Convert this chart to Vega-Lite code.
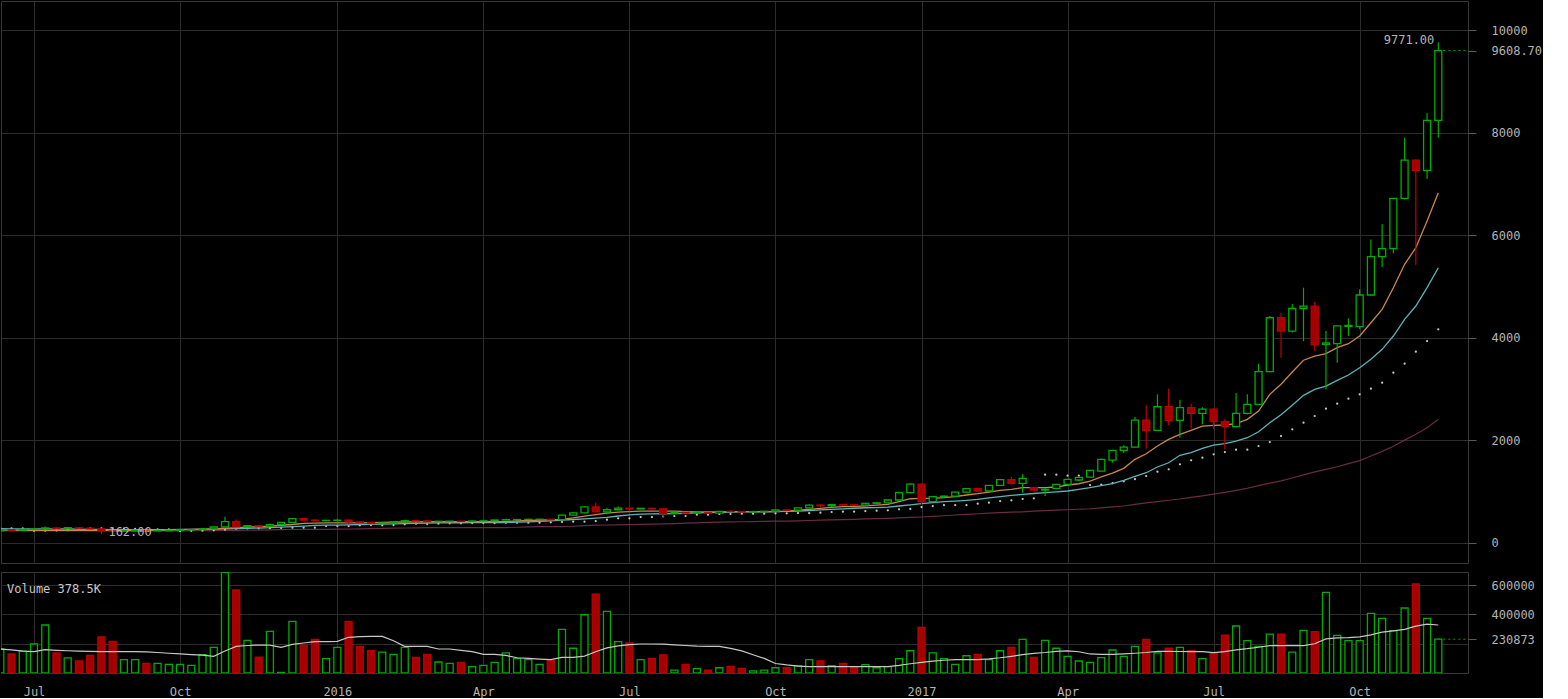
{
 "$schema": "https://vega.github.io/schema/vega-lite/v6.json",
 "background": "#000000",
 "padding": 0,
 "spacing": 7,
 "config": {
  "view": {"stroke": "#383838", "strokeWidth": 1},
  "font": "DejaVu Sans Mono",
  "axis": {"labelFont": "DejaVu Sans Mono", "labelFontSize": 12, "labelColor": "#b4b4b4", "gridColor": "#2c2c2c", "gridWidth": 1, "domain": false, "tickColor": "#5a5a5a", "labelOverlap": false}
 },
 "datasets": {"w": [
{"d":"2015-06-11","o":229,"h":256,"l":227,"c":249,"v":164000,"m1":244,"m2":270,"s":280,"m4":225,"vm":164000},
{"d":"2015-06-18","o":249,"h":251,"l":240,"c":242,"v":130000,"m1":242,"m2":268,"s":277,"m4":225,"vm":158000},
{"d":"2015-06-25","o":242,"h":264,"l":240,"c":258,"v":150000,"m1":240,"m2":267,"s":274,"m4":225,"vm":150000},
{"d":"2015-07-02","o":258,"h":274,"l":253,"c":268,"v":198000,"m1":238,"m2":266,"s":228,"m4":225,"vm":146000},
{"d":"2015-07-09","o":268,"h":315,"l":267,"c":285,"v":328000,"m1":238,"m2":265,"s":230,"m4":225,"vm":159000},
{"d":"2015-07-16","o":285,"h":292,"l":268,"c":277,"v":137000,"m1":240,"m2":265,"s":235,"m4":225,"vm":155000},
{"d":"2015-07-23","o":277,"h":298,"l":275,"c":289,"v":104000,"m1":240,"m2":265,"s":240,"m4":225,"vm":152000},
{"d":"2015-07-30","o":289,"h":290,"l":275,"c":281,"v":82000,"m1":240,"m2":262,"s":277,"m4":225,"vm":150000},
{"d":"2015-08-06","o":281,"h":282,"l":260,"c":267,"v":121000,"m1":240,"m2":258,"s":277,"m4":225,"vm":148000},
{"d":"2015-08-13","o":267,"h":268,"l":162,"c":226,"v":246000,"m1":238,"m2":254,"s":277,"m4":225,"vm":146000},
{"d":"2015-08-20","o":226,"h":237,"l":198,"c":224,"v":216000,"m1":236,"m2":251,"s":277,"m4":225,"vm":146000},
{"d":"2015-08-27","o":224,"h":235,"l":222,"c":228,"v":91000,"m1":234,"m2":250,"s":270,"m4":225,"vm":146000},
{"d":"2015-09-03","o":228,"h":247,"l":226,"c":238,"v":91000,"m1":235,"m2":250,"s":265,"m4":225,"vm":146000},
{"d":"2015-09-10","o":238,"h":241,"l":227,"c":229,"v":66000,"m1":237,"m2":250,"s":258,"m4":225,"vm":144000},
{"d":"2015-09-17","o":229,"h":234,"l":227,"c":231,"v":66000,"m1":240,"m2":251,"s":258,"m4":225,"vm":140000},
{"d":"2015-09-24","o":231,"h":239,"l":231,"c":236,"v":59000,"m1":245,"m2":253,"s":258,"m4":226,"vm":135000},
{"d":"2015-10-01","o":236,"h":248,"l":235,"c":246,"v":59000,"m1":250,"m2":255,"s":226,"m4":228,"vm":130000},
{"d":"2015-10-08","o":246,"h":254,"l":242,"c":252,"v":52000,"m1":255,"m2":258,"s":228,"m4":230,"vm":126000},
{"d":"2015-10-15","o":252,"h":273,"l":250,"c":268,"v":125000,"m1":260,"m2":260,"s":232,"m4":232,"vm":122000},
{"d":"2015-10-22","o":268,"h":304,"l":267,"c":303,"v":175000,"m1":265,"m2":262,"s":238,"m4":234,"vm":114000},
{"d":"2015-10-29","o":303,"h":502,"l":302,"c":410,"v":687000,"m1":275,"m2":265,"s":250,"m4":236,"vm":150000},
{"d":"2015-11-05","o":410,"h":450,"l":300,"c":305,"v":567000,"m1":289,"m2":270,"s":270,"m4":238,"vm":182000},
{"d":"2015-11-12","o":305,"h":340,"l":305,"c":330,"v":223000,"m1":300,"m2":276,"s":274,"m4":240,"vm":188000},
{"d":"2015-11-19","o":330,"h":335,"l":315,"c":320,"v":109000,"m1":311,"m2":283,"s":277,"m4":243,"vm":191000},
{"d":"2015-11-26","o":320,"h":370,"l":318,"c":350,"v":285000,"m1":322,"m2":289,"s":280,"m4":246,"vm":191000},
{"d":"2015-12-03","o":350,"h":400,"l":345,"c":395,"v":4000,"m1":337,"m2":300,"s":284,"m4":250,"vm":175000},
{"d":"2015-12-10","o":395,"h":470,"l":390,"c":465,"v":353000,"m1":352,"m2":311,"s":289,"m4":254,"vm":195000},
{"d":"2015-12-17","o":465,"h":470,"l":430,"c":437,"v":191000,"m1":372,"m2":322,"s":289,"m4":258,"vm":205000},
{"d":"2015-12-24","o":437,"h":460,"l":415,"c":428,"v":230000,"m1":380,"m2":333,"s":289,"m4":258,"vm":214000},
{"d":"2015-12-31","o":428,"h":440,"l":425,"c":433,"v":98000,"m1":385,"m2":338,"s":322,"m4":258,"vm":214000},
{"d":"2016-01-07","o":433,"h":462,"l":420,"c":436,"v":175000,"m1":385,"m2":340,"s":322,"m4":260,"vm":216000},
{"d":"2016-01-14","o":436,"h":455,"l":355,"c":405,"v":353000,"m1":383,"m2":345,"s":322,"m4":264,"vm":244000},
{"d":"2016-01-21","o":405,"h":415,"l":380,"c":393,"v":182000,"m1":385,"m2":352,"s":336,"m4":268,"vm":248000},
{"d":"2016-01-28","o":393,"h":395,"l":365,"c":370,"v":152000,"m1":388,"m2":356,"s":342,"m4":271,"vm":250000},
{"d":"2016-02-04","o":370,"h":390,"l":365,"c":381,"v":143000,"m1":392,"m2":360,"s":336,"m4":275,"vm":250000},
{"d":"2016-02-11","o":381,"h":410,"l":375,"c":404,"v":127000,"m1":398,"m2":364,"s":342,"m4":280,"vm":220000},
{"d":"2016-02-18","o":404,"h":445,"l":404,"c":426,"v":175000,"m1":401,"m2":368,"s":355,"m4":284,"vm":182000},
{"d":"2016-02-25","o":426,"h":440,"l":420,"c":423,"v":107000,"m1":404,"m2":374,"s":368,"m4":287,"vm":182000},
{"d":"2016-03-03","o":423,"h":424,"l":400,"c":412,"v":127000,"m1":406,"m2":379,"s":361,"m4":289,"vm":182000},
{"d":"2016-03-10","o":412,"h":420,"l":410,"c":416,"v":75000,"m1":406,"m2":382,"s":368,"m4":289,"vm":164000},
{"d":"2016-03-17","o":416,"h":420,"l":405,"c":418,"v":66000,"m1":406,"m2":384,"s":374,"m4":289,"vm":164000},
{"d":"2016-03-24","o":418,"h":420,"l":410,"c":414,"v":73000,"m1":406,"m2":386,"s":374,"m4":289,"vm":155000},
{"d":"2016-03-31","o":414,"h":423,"l":412,"c":421,"v":43000,"m1":406,"m2":387,"s":381,"m4":289,"vm":146000},
{"d":"2016-04-07","o":421,"h":427,"l":418,"c":424,"v":52000,"m1":406,"m2":387,"s":381,"m4":289,"vm":127000},
{"d":"2016-04-14","o":424,"h":442,"l":423,"c":440,"v":73000,"m1":406,"m2":387,"s":381,"m4":289,"vm":127000},
{"d":"2016-04-21","o":440,"h":466,"l":440,"c":446,"v":137000,"m1":410,"m2":390,"s":387,"m4":292,"vm":120000},
{"d":"2016-04-28","o":446,"h":455,"l":440,"c":449,"v":98000,"m1":420,"m2":397,"s":387,"m4":298,"vm":104000},
{"d":"2016-05-05","o":449,"h":462,"l":445,"c":453,"v":91000,"m1":430,"m2":404,"s":387,"m4":305,"vm":100000},
{"d":"2016-05-12","o":453,"h":458,"l":448,"c":455,"v":59000,"m1":438,"m2":412,"s":387,"m4":309,"vm":95000},
{"d":"2016-05-19","o":455,"h":456,"l":436,"c":448,"v":84000,"m1":445,"m2":424,"s":394,"m4":309,"vm":91000},
{"d":"2016-05-26","o":448,"h":548,"l":448,"c":535,"v":298000,"m1":452,"m2":436,"s":400,"m4":309,"vm":107000},
{"d":"2016-06-02","o":535,"h":590,"l":530,"c":578,"v":169000,"m1":480,"m2":450,"s":407,"m4":318,"vm":107000},
{"d":"2016-06-09","o":578,"h":705,"l":575,"c":695,"v":398000,"m1":515,"m2":462,"s":407,"m4":328,"vm":115000},
{"d":"2016-06-16","o":695,"h":780,"l":590,"c":598,"v":539000,"m1":545,"m2":475,"s":420,"m4":338,"vm":145000},
{"d":"2016-06-23","o":598,"h":680,"l":550,"c":640,"v":421000,"m1":575,"m2":490,"s":445,"m4":342,"vm":172000},
{"d":"2016-06-30","o":640,"h":705,"l":635,"c":670,"v":214000,"m1":595,"m2":518,"s":472,"m4":345,"vm":185000},
{"d":"2016-07-07","o":670,"h":675,"l":610,"c":655,"v":205000,"m1":605,"m2":540,"s":472,"m4":350,"vm":194000},
{"d":"2016-07-14","o":655,"h":675,"l":650,"c":668,"v":91000,"m1":612,"m2":553,"s":498,"m4":355,"vm":198000},
{"d":"2016-07-21","o":668,"h":670,"l":645,"c":655,"v":100000,"m1":615,"m2":558,"s":498,"m4":360,"vm":198000},
{"d":"2016-07-28","o":655,"h":660,"l":480,"c":566,"v":123000,"m1":615,"m2":562,"s":511,"m4":365,"vm":197000},
{"d":"2016-08-04","o":566,"h":600,"l":560,"c":590,"v":20000,"m1":612,"m2":566,"s":518,"m4":370,"vm":192000},
{"d":"2016-08-11","o":590,"h":595,"l":568,"c":575,"v":59000,"m1":605,"m2":572,"s":518,"m4":377,"vm":188000},
{"d":"2016-08-18","o":575,"h":585,"l":570,"c":580,"v":30000,"m1":598,"m2":580,"s":543,"m4":385,"vm":183000},
{"d":"2016-08-25","o":580,"h":582,"l":565,"c":574,"v":20000,"m1":598,"m2":585,"s":543,"m4":393,"vm":182000},
{"d":"2016-09-01","o":574,"h":612,"l":570,"c":610,"v":36000,"m1":600,"m2":590,"s":557,"m4":400,"vm":182000},
{"d":"2016-09-08","o":610,"h":630,"l":600,"c":607,"v":45000,"m1":602,"m2":595,"s":557,"m4":404,"vm":168000},
{"d":"2016-09-15","o":607,"h":610,"l":595,"c":597,"v":32000,"m1":602,"m2":598,"s":563,"m4":406,"vm":151000},
{"d":"2016-09-22","o":597,"h":607,"l":592,"c":604,"v":14000,"m1":602,"m2":600,"s":563,"m4":410,"vm":125000},
{"d":"2016-09-29","o":604,"h":612,"l":600,"c":610,"v":20000,"m1":602,"m2":601,"s":563,"m4":413,"vm":100000},
{"d":"2016-10-06","o":610,"h":640,"l":606,"c":636,"v":36000,"m1":606,"m2":602,"s":570,"m4":416,"vm":65000},
{"d":"2016-10-13","o":636,"h":642,"l":630,"c":632,"v":36000,"m1":614,"m2":608,"s":570,"m4":419,"vm":55000},
{"d":"2016-10-20","o":632,"h":680,"l":628,"c":675,"v":50000,"m1":630,"m2":614,"s":576,"m4":423,"vm":47000},
{"d":"2016-10-27","o":675,"h":745,"l":675,"c":732,"v":91000,"m1":648,"m2":625,"s":576,"m4":430,"vm":43000},
{"d":"2016-11-03","o":732,"h":740,"l":690,"c":718,"v":82000,"m1":665,"m2":636,"s":582,"m4":436,"vm":43000},
{"d":"2016-11-10","o":718,"h":745,"l":695,"c":741,"v":50000,"m1":688,"m2":648,"s":596,"m4":442,"vm":43000},
{"d":"2016-11-17","o":741,"h":755,"l":725,"c":736,"v":66000,"m1":700,"m2":659,"s":602,"m4":448,"vm":43000},
{"d":"2016-11-24","o":736,"h":745,"l":725,"c":732,"v":43000,"m1":706,"m2":669,"s":602,"m4":453,"vm":43000},
{"d":"2016-12-01","o":732,"h":775,"l":730,"c":766,"v":57000,"m1":714,"m2":679,"s":615,"m4":460,"vm":43000},
{"d":"2016-12-08","o":766,"h":780,"l":760,"c":775,"v":36000,"m1":730,"m2":682,"s":621,"m4":466,"vm":43000},
{"d":"2016-12-15","o":775,"h":835,"l":770,"c":830,"v":43000,"m1":746,"m2":693,"s":629,"m4":473,"vm":43000},
{"d":"2016-12-22","o":830,"h":990,"l":820,"c":975,"v":98000,"m1":800,"m2":713,"s":648,"m4":480,"vm":52000},
{"d":"2016-12-29","o":975,"h":1160,"l":960,"c":1140,"v":152000,"m1":855,"m2":735,"s":655,"m4":490,"vm":63000},
{"d":"2017-01-05","o":1140,"h":1150,"l":750,"c":797,"v":312000,"m1":863,"m2":758,"s":693,"m4":498,"vm":73000},
{"d":"2017-01-12","o":797,"h":910,"l":780,"c":895,"v":137000,"m1":863,"m2":778,"s":713,"m4":510,"vm":81000},
{"d":"2017-01-19","o":895,"h":925,"l":880,"c":905,"v":98000,"m1":875,"m2":797,"s":732,"m4":523,"vm":87000},
{"d":"2017-01-26","o":905,"h":990,"l":900,"c":986,"v":59000,"m1":895,"m2":810,"s":732,"m4":537,"vm":91000},
{"d":"2017-02-02","o":986,"h":1060,"l":980,"c":1051,"v":118000,"m1":928,"m2":824,"s":732,"m4":551,"vm":91000},
{"d":"2017-02-09","o":1051,"h":1065,"l":975,"c":1006,"v":127000,"m1":953,"m2":843,"s":758,"m4":562,"vm":91000},
{"d":"2017-02-16","o":1006,"h":1125,"l":1000,"c":1117,"v":91000,"m1":986,"m2":870,"s":777,"m4":573,"vm":96000},
{"d":"2017-02-23","o":1117,"h":1230,"l":1110,"c":1227,"v":152000,"m1":1019,"m2":895,"s":810,"m4":583,"vm":104000},
{"d":"2017-03-02","o":1227,"h":1286,"l":1130,"c":1156,"v":175000,"m1":1038,"m2":920,"s":824,"m4":592,"vm":114000},
{"d":"2017-03-09","o":1156,"h":1331,"l":973,"c":1254,"v":230000,"m1":1071,"m2":941,"s":850,"m4":600,"vm":125000},
{"d":"2017-03-16","o":1071,"h":1085,"l":1000,"c":1025,"v":107000,"m1":1071,"m2":957,"s":863,"m4":612,"vm":134000},
{"d":"2017-03-23","o":1025,"h":1060,"l":908,"c":1040,"v":223000,"m1":1071,"m2":973,"s":1324,"m4":624,"vm":140000},
{"d":"2017-03-30","o":1058,"h":1145,"l":1040,"c":1136,"v":169000,"m1":1084,"m2":990,"s":1324,"m4":632,"vm":148000},
{"d":"2017-04-06","o":1136,"h":1240,"l":1120,"c":1234,"v":114000,"m1":1123,"m2":1006,"s":1305,"m4":640,"vm":151000},
{"d":"2017-04-13","o":1221,"h":1285,"l":1200,"c":1273,"v":82000,"m1":1148,"m2":1038,"s":1305,"m4":650,"vm":145000},
{"d":"2017-04-20","o":1279,"h":1420,"l":1270,"c":1410,"v":73000,"m1":1200,"m2":1071,"s":1123,"m4":660,"vm":130000},
{"d":"2017-04-27","o":1396,"h":1640,"l":1390,"c":1625,"v":105000,"m1":1280,"m2":1110,"s":1129,"m4":678,"vm":127000},
{"d":"2017-05-04","o":1611,"h":1810,"l":1562,"c":1800,"v":157000,"m1":1355,"m2":1148,"s":1158,"m4":695,"vm":127000},
{"d":"2017-05-11","o":1800,"h":1900,"l":1750,"c":1865,"v":114000,"m1":1449,"m2":1215,"s":1195,"m4":713,"vm":131000},
{"d":"2017-05-18","o":1865,"h":2451,"l":1850,"c":2392,"v":182000,"m1":1625,"m2":1290,"s":1237,"m4":745,"vm":135000},
{"d":"2017-05-25","o":2392,"h":2685,"l":1832,"c":2191,"v":230000,"m1":1734,"m2":1363,"s":1299,"m4":775,"vm":140000},
{"d":"2017-06-01","o":2191,"h":2894,"l":2180,"c":2652,"v":137000,"m1":1885,"m2":1475,"s":1383,"m4":800,"vm":148000},
{"d":"2017-06-08","o":2652,"h":3004,"l":2289,"c":2386,"v":169000,"m1":2015,"m2":1558,"s":1430,"m4":825,"vm":148000},
{"d":"2017-06-15","o":2386,"h":2789,"l":2047,"c":2633,"v":175000,"m1":2113,"m2":1703,"s":1527,"m4":850,"vm":147000},
{"d":"2017-06-22","o":2633,"h":2711,"l":2223,"c":2523,"v":152000,"m1":2191,"m2":1754,"s":1605,"m4":880,"vm":146000},
{"d":"2017-06-29","o":2523,"h":2640,"l":2308,"c":2607,"v":98000,"m1":2275,"m2":1839,"s":1656,"m4":910,"vm":146000},
{"d":"2017-07-06","o":2607,"h":2620,"l":2210,"c":2360,"v":133000,"m1":2289,"m2":1904,"s":1722,"m4":945,"vm":139000},
{"d":"2017-07-13","o":2360,"h":2406,"l":1820,"c":2262,"v":259000,"m1":2295,"m2":1930,"s":1767,"m4":980,"vm":146000},
{"d":"2017-07-20","o":2262,"h":2920,"l":2250,"c":2523,"v":321000,"m1":2320,"m2":1982,"s":1812,"m4":1020,"vm":158000},
{"d":"2017-07-27","o":2523,"h":2894,"l":2500,"c":2699,"v":221000,"m1":2406,"m2":2047,"s":1812,"m4":1060,"vm":166000},
{"d":"2017-08-03","o":2699,"h":3492,"l":2690,"c":3336,"v":182000,"m1":2568,"m2":2164,"s":1885,"m4":1110,"vm":176000},
{"d":"2017-08-10","o":3336,"h":4424,"l":3320,"c":4390,"v":266000,"m1":2894,"m2":2340,"s":1963,"m4":1160,"vm":187000},
{"d":"2017-08-17","o":4390,"h":4488,"l":3609,"c":4130,"v":266000,"m1":3090,"m2":2497,"s":2080,"m4":1205,"vm":187000},
{"d":"2017-08-24","o":4130,"h":4660,"l":4100,"c":4570,"v":143000,"m1":3330,"m2":2683,"s":2211,"m4":1260,"vm":187000},
{"d":"2017-08-31","o":4570,"h":4977,"l":3930,"c":4615,"v":291000,"m1":3560,"m2":2874,"s":2340,"m4":1320,"vm":187000},
{"d":"2017-09-07","o":4615,"h":4700,"l":3740,"c":3860,"v":282000,"m1":3642,"m2":2992,"s":2471,"m4":1380,"vm":200000},
{"d":"2017-09-14","o":3870,"h":4130,"l":2990,"c":3900,"v":551000,"m1":3688,"m2":3056,"s":2613,"m4":1430,"vm":233000},
{"d":"2017-09-21","o":3885,"h":4240,"l":3510,"c":4230,"v":257000,"m1":3805,"m2":3168,"s":2711,"m4":1480,"vm":240000},
{"d":"2017-09-28","o":4220,"h":4375,"l":4036,"c":4240,"v":221000,"m1":3883,"m2":3271,"s":2809,"m4":1540,"vm":241000},
{"d":"2017-10-05","o":4215,"h":4945,"l":4163,"c":4834,"v":221000,"m1":4033,"m2":3414,"s":2894,"m4":1600,"vm":247000},
{"d":"2017-10-12","o":4834,"h":5920,"l":4820,"c":5582,"v":407000,"m1":4293,"m2":3578,"s":3004,"m4":1690,"vm":260000},
{"d":"2017-10-19","o":5582,"h":6214,"l":5380,"c":5738,"v":373000,"m1":4554,"m2":3773,"s":3121,"m4":1780,"vm":279000},
{"d":"2017-10-26","o":5738,"h":6730,"l":5648,"c":6722,"v":289000,"m1":4977,"m2":4033,"s":3316,"m4":1880,"vm":288000},
{"d":"2017-11-02","o":6722,"h":7906,"l":6700,"c":7470,"v":444000,"m1":5433,"m2":4359,"s":3492,"m4":2000,"vm":298000},
{"d":"2017-11-09","o":7470,"h":7480,"l":5414,"c":7270,"v":608000,"m1":5758,"m2":4619,"s":3726,"m4":2113,"vm":320000},
{"d":"2017-11-16","o":7270,"h":8390,"l":7105,"c":8245,"v":373000,"m1":6279,"m2":4977,"s":3935,"m4":2242,"vm":334000},
{"d":"2017-11-23","o":8245,"h":9771,"l":7906,"c":9608.7,"v":230873,"m1":6832,"m2":5367,"s":4164,"m4":2406,"vm":328000}
 ]},
 "data": {"name": "w"},
 "vconcat": [
  {
   "width": 1467,
   "height": 562,
   "encoding": {
    "x": {"field": "d", "type": "temporal", "title": null,
     "scale": {"type": "utc", "domain": [1434018600000, 1512993600000], "padding": 0},
     "axis": {"values": [
       {"year":2015,"month":7,"date":2,"utc":true},{"year":2015,"month":10,"date":1,"utc":true},
       {"year":2016,"month":1,"date":7,"utc":true},{"year":2016,"month":4,"date":7,"utc":true},
       {"year":2016,"month":7,"date":7,"utc":true},{"year":2016,"month":10,"date":6,"utc":true},
       {"year":2017,"month":1,"date":5,"utc":true},{"year":2017,"month":4,"date":6,"utc":true},
       {"year":2017,"month":7,"date":6,"utc":true},{"year":2017,"month":10,"date":5,"utc":true}],
      "tickCount": 20, "labels": false, "ticks": false, "grid": true, "title": null}}
   },
   "layer": [
    {"mark": {"type": "line", "color": "#6a2b45", "strokeWidth": 1.2, "clip": true},
     "encoding": {"y": {"field": "m4", "type": "quantitative", "title": null,
       "scale": {"domain": [-400, 10576], "nice": false, "zero": false},
       "axis": {"orient": "right", "title": null, "values": [0, 2000, 4000, 6000, 8000, 9608.7, 10000], "tickCount": 20,
        "labelExpr": "datum.value == 9608.7 ? '9608.70' : format(datum.value, 'd')",
        "gridColor": {"condition": {"test": "datum.value == 9608.7", "value": "transparent"}, "value": "#2c2c2c"},
        "tickSize": 8, "labelPadding": 15}}}},
    {"mark": {"type": "circle", "color": "#c8c8c8", "size": 5, "opacity": 1, "clip": true},
     "encoding": {"y": {"field": "s", "type": "quantitative", "title": null, "scale": {"domain": [-400, 10576], "nice": false, "zero": false}}}},
    {"mark": {"type": "line", "color": "#5db3b8", "strokeWidth": 1.3, "clip": true},
     "encoding": {"y": {"field": "m2", "type": "quantitative", "title": null, "scale": {"domain": [-400, 10576], "nice": false, "zero": false}}}},
    {"mark": {"type": "line", "color": "#c8884c", "strokeWidth": 1.3, "clip": true},
     "encoding": {"y": {"field": "m1", "type": "quantitative", "title": null, "scale": {"domain": [-400, 10576], "nice": false, "zero": false}}}},
    {"transform": [{"filter": "datum.c == 9608.7"}],
     "mark": {"type": "rule", "color": "#00a000", "strokeDash": [2, 3], "strokeWidth": 1},
     "encoding": {"y": {"field": "c", "type": "quantitative", "title": null, "scale": {"domain": [-400, 10576], "nice": false, "zero": false}},
      "x2": {"datum": 1512993600000}}},
    {"mark": {"type": "rule", "strokeWidth": 1.2, "clip": true},
     "encoding": {"y": {"field": "l", "type": "quantitative", "title": null, "scale": {"domain": [-400, 10576], "nice": false, "zero": false}},
      "y2": {"field": "h"},
      "color": {"condition": {"test": "datum.c >= datum.o", "value": "#00ad00"}, "value": "#c00000"}}},
    {"mark": {"type": "bar", "size": 7, "strokeWidth": 1.3, "clip": true},
     "encoding": {"y": {"field": "o", "type": "quantitative", "title": null, "scale": {"domain": [-400, 10576], "nice": false, "zero": false}},
      "y2": {"field": "c"},
      "fill": {"condition": {"test": "datum.c >= datum.o", "value": "#000000"}, "value": "#a50000"},
      "stroke": {"condition": {"test": "datum.c >= datum.o", "value": "#00ad00"}, "value": "#b80000"}}},
    {"transform": [{"filter": "datum.h == 9771"}],
     "mark": {"type": "text", "align": "right", "baseline": "middle", "dx": -4, "dy": -2, "color": "#b4b4b4", "font": "DejaVu Sans Mono", "fontSize": 12},
     "encoding": {"y": {"field": "h", "type": "quantitative", "title": null, "scale": {"domain": [-400, 10576], "nice": false, "zero": false}},
      "text": {"field": "h", "type": "quantitative", "format": ".2f"}}},
    {"transform": [{"filter": "datum.l == 162"}],
     "mark": {"type": "text", "align": "left", "baseline": "middle", "dx": 7, "dy": -2, "color": "#b4b4b4", "font": "DejaVu Sans Mono", "fontSize": 12},
     "encoding": {"y": {"field": "l", "type": "quantitative", "title": null, "scale": {"domain": [-400, 10576], "nice": false, "zero": false}},
      "text": {"field": "l", "type": "quantitative", "format": ".2f"}}}
   ]
  },
  {
   "width": 1467,
   "height": 101,
   "encoding": {
    "x": {"field": "d", "type": "temporal", "title": null,
     "scale": {"type": "utc", "domain": [1434018600000, 1512993600000], "padding": 0},
     "axis": {"values": [
       {"year":2015,"month":7,"date":2,"utc":true},{"year":2015,"month":10,"date":1,"utc":true},
       {"year":2016,"month":1,"date":7,"utc":true},{"year":2016,"month":4,"date":7,"utc":true},
       {"year":2016,"month":7,"date":7,"utc":true},{"year":2016,"month":10,"date":6,"utc":true},
       {"year":2017,"month":1,"date":5,"utc":true},{"year":2017,"month":4,"date":6,"utc":true},
       {"year":2017,"month":7,"date":6,"utc":true},{"year":2017,"month":10,"date":5,"utc":true}],
      "tickCount": 20,
      "labelExpr": "utcFormat(datum.value, '%m') == '01' ? utcFormat(datum.value, '%Y') : utcFormat(datum.value, '%b')",
      "ticks": false, "grid": true, "labelPadding": 13, "title": null}}
   },
   "layer": [
    {"mark": {"type": "bar", "size": 7, "strokeWidth": 1.3, "clip": true},
     "encoding": {"y": {"field": "v", "type": "quantitative", "title": null,
       "scale": {"domain": [0, 690000], "nice": false, "zero": true},
       "axis": {"orient": "right", "title": null, "values": [200000, 230873, 400000, 600000], "tickCount": 20,
        "labelExpr": "datum.value == 200000 ? '' : format(datum.value, 'd')",
        "labelOverlap": false,
        "gridColor": {"condition": {"test": "datum.value == 230873", "value": "transparent"}, "value": "#2c2c2c"},
        "tickColor": {"condition": {"test": "datum.value == 200000", "value": "transparent"}, "value": "#5a5a5a"},
        "tickSize": 8, "labelPadding": 15}},
      "fill": {"condition": {"test": "datum.c >= datum.o", "value": "#000000"}, "value": "#a50000"},
      "stroke": {"condition": {"test": "datum.c >= datum.o", "value": "#00ad00"}, "value": "#b80000"}}},
    {"transform": [{"filter": "datum.v == 230873"}],
     "mark": {"type": "rule", "color": "#00a000", "strokeDash": [2, 3], "strokeWidth": 1},
     "encoding": {"y": {"field": "v", "type": "quantitative", "title": null, "scale": {"domain": [0, 690000], "nice": false, "zero": true}},
      "x2": {"datum": 1512993600000}}},
    {"mark": {"type": "line", "color": "#c8c8c8", "strokeWidth": 1.2, "clip": true},
     "encoding": {"y": {"field": "vm", "type": "quantitative", "title": null, "scale": {"domain": [0, 690000], "nice": false, "zero": true}}}},
    {"transform": [{"filter": "datum.v == 230873"}],
     "mark": {"type": "text", "align": "left", "baseline": "middle", "dx": 6, "color": "#c8c8c8", "font": "DejaVu Sans Mono", "fontSize": 12},
     "encoding": {"x": {"datum": {"year": 2015, "month": 6, "date": 11, "hours": 10, "minutes": 30, "utc": true}, "type": "temporal"},
      "y": {"field": "v", "type": "quantitative", "title": null, "scale": {"domain": [0, 690000], "nice": false, "zero": true}},
      "yOffset": {"value": -50},
      "text": {"value": "Volume 378.5K"}}}
   ]
  }
 ]
}
